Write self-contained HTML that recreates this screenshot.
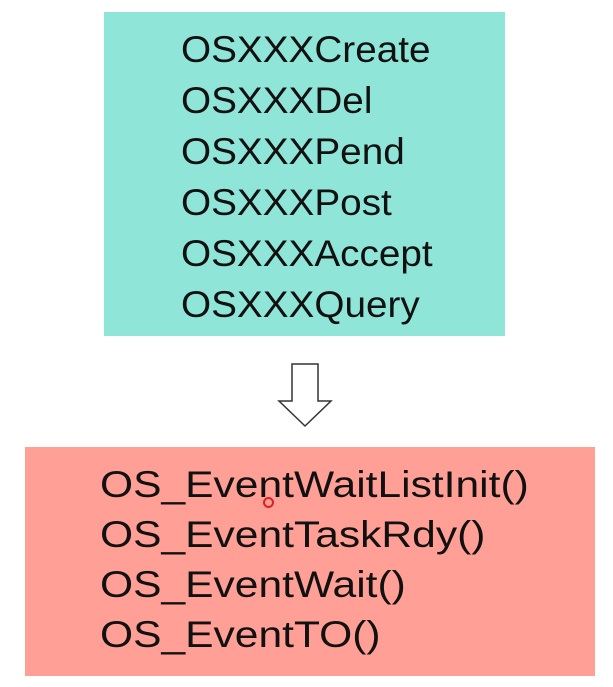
<!DOCTYPE html>
<html><head><style>
body{margin:0;width:613px;height:687px;background:#fff;position:relative;overflow:hidden;font-family:"Liberation Sans",sans-serif;}
.b{position:absolute;}
.t{position:absolute;font-size:37px;color:#111;white-space:nowrap;line-height:1;transform-origin:0 50%;}
.u{transform:scaleX(1.046);}
.d{transform:scaleX(1.15);}
</style></head><body>
<div class="b" style="left:104px;top:12px;width:401px;height:324px;background:#8fe6d8"></div>
<div class="t u" style="left:181px;top:31px">OSXXXCreate</div>
<div class="t u" style="left:181px;top:82px">OSXXXDel</div>
<div class="t u" style="left:181px;top:133px">OSXXXPend</div>
<div class="t u" style="left:181px;top:184px">OSXXXPost</div>
<div class="t u" style="left:181px;top:235px">OSXXXAccept</div>
<div class="t u" style="left:181px;top:286px">OSXXXQuery</div>
<svg class="b" style="left:0;top:0" width="613" height="687">
<polygon points="292,364 318,364 318,401 331,401 305,426 279,401 292,401" fill="#fff" stroke="#333" stroke-width="1.5"/>
</svg>
<div class="b" style="left:25px;top:447px;width:570px;height:229px;background:#ff9f95"></div>
<div class="t d" style="left:100px;top:466px">OS_EventWaitListInit()</div>
<div class="t d" style="left:100px;top:516px">OS_EventTaskRdy()</div>
<div class="t d" style="left:100px;top:566px">OS_EventWait()</div>
<div class="t d" style="left:100px;top:616px">OS_EventTO()</div>
<div class="b" style="left:263px;top:497px;width:7px;height:7px;border:2px solid #e02020;border-radius:50%"></div>
</body></html>
